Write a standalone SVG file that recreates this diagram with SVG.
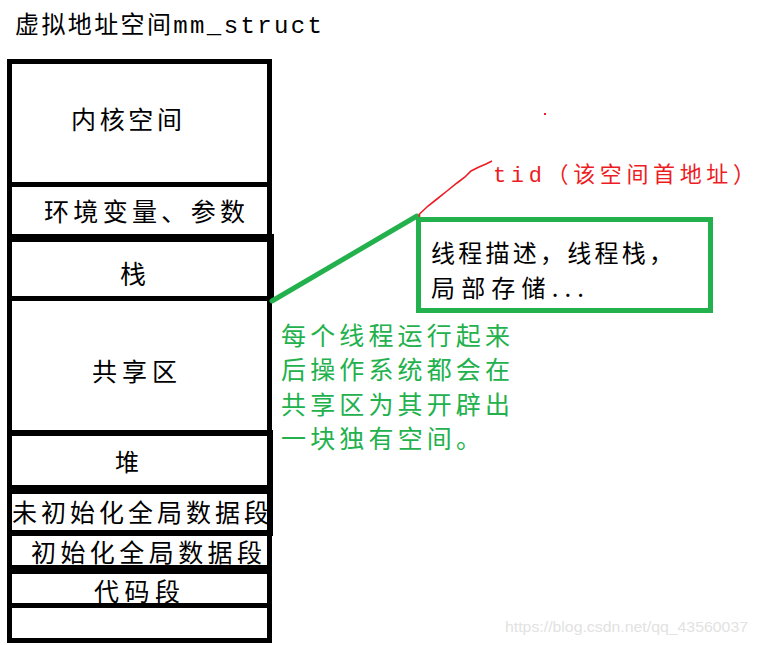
<svg xmlns="http://www.w3.org/2000/svg" width="758" height="645" viewBox="0 0 758 645">
<style>
.cj{font-family:"Noto Sans CJK SC","Noto Sans",sans-serif;fill:#000;}
.mono{font-family:"Liberation Mono","DejaVu Sans Mono",monospace;}
.seg{fill:none;stroke:#000;stroke-width:5;}
.sep{stroke:#000;}
.g{fill:#22b14c;font-family:"Noto Sans CJK SC",sans-serif;font-size:25px;}
</style>
<rect width="758" height="645" fill="#fff"/>
<text class="cj" x="15" y="33" font-size="24" textLength="307" lengthAdjust="spacing">虚拟地址空间<tspan class="mono">mm_struct</tspan></text>

<g id="memory">
  <rect class="seg" x="9.5" y="61.5" width="260" height="579"/>
  <rect x="267" y="234" width="7" height="67" fill="#000"/>
  <rect x="267" y="430" width="6" height="106" fill="#000"/>
  <g id="kernel">
    <line class="sep" x1="7" y1="184.5" x2="272" y2="184.5" stroke-width="5"/>
    <text class="cj" x="71" y="129" font-size="25" textLength="111" lengthAdjust="spacing">内核空间</text>
  </g>
  <g id="env">
    <line class="sep" x1="7" y1="238" x2="274" y2="238" stroke-width="8"/>
    <text class="cj" x="44" y="221" font-size="25" textLength="201" lengthAdjust="spacing">环境变量、参数</text>
  </g>
  <g id="stack">
    <line class="sep" x1="7" y1="298.5" x2="274" y2="298.5" stroke-width="5"/>
    <text class="cj" x="120" y="284" font-size="26">栈</text>
  </g>
  <g id="shared">
    <line class="sep" x1="7" y1="433" x2="273" y2="433" stroke-width="6"/>
    <text class="cj" x="92" y="381" font-size="25" textLength="85" lengthAdjust="spacing">共享区</text>
  </g>
  <g id="heap">
    <line class="sep" x1="7" y1="489.5" x2="273" y2="489.5" stroke-width="9"/>
    <text class="cj" x="115" y="471" font-size="24">堆</text>
  </g>
  <g id="bss">
    <line class="sep" x1="7" y1="533" x2="273" y2="533" stroke-width="6"/>
    <text class="cj" x="12" y="522" font-size="25" textLength="257" lengthAdjust="spacing">未初始化全局数据段</text>
  </g>
  <g id="data">
    <line class="sep" x1="7" y1="569.5" x2="272" y2="569.5" stroke-width="9"/>
    <text class="cj" x="31" y="562" font-size="25" textLength="231" lengthAdjust="spacing">初始化全局数据段</text>
  </g>
  <g id="code">
    <line class="sep" x1="7" y1="605.5" x2="272" y2="605.5" stroke-width="5"/>
    <text class="cj" x="94" y="601" font-size="25" textLength="86" lengthAdjust="spacing">代码段</text>
  </g>
</g>

<g id="connectors">
  <line x1="272" y1="301" x2="417" y2="216" stroke="#22b14c" stroke-width="5" stroke-linecap="round"/>
  <polyline points="419.5,221 419.5,214 428,206 437,199 447,191 457,183 465,177 471,171 479,167 486,164 492,161" fill="none" stroke="#ed1c24" stroke-width="1.6"/>
  <rect x="544" y="113" width="2" height="2" fill="#ed1c24"/>
</g>

<g id="tid-label">
  <text x="493" y="182" font-size="22" fill="#ed1c24" font-family="Noto Sans CJK SC,sans-serif" textLength="262" lengthAdjust="spacing"><tspan font-family="Liberation Mono,monospace">tid</tspan>（该空间首地址）</text>
</g>

<g id="thread-box">
  <rect x="418.5" y="219.5" width="292" height="91" fill="none" stroke="#22b14c" stroke-width="5"/>
  <text class="cj" x="431" y="262" font-size="24" textLength="242" lengthAdjust="spacing">线程描述，线程栈，</text>
  <text class="cj" x="431" y="297" font-size="24" textLength="153" lengthAdjust="spacing">局部存储...</text>
</g>

<g id="note">
  <text class="g" x="281" y="345" textLength="229" lengthAdjust="spacing">每个线程运行起来</text>
  <text class="g" x="281" y="379" textLength="229" lengthAdjust="spacing">后操作系统都会在</text>
  <text class="g" x="281" y="414" textLength="229" lengthAdjust="spacing">共享区为其开辟出</text>
  <text class="g" x="281" y="448" textLength="200" lengthAdjust="spacing">一块独有空间。</text>
</g>

<text x="505" y="632" font-size="15" fill="#e2e2e2" font-family="Liberation Sans,Arial,sans-serif" textLength="243" lengthAdjust="spacingAndGlyphs">https://blog.csdn.net/qq_43560037</text>
</svg>
